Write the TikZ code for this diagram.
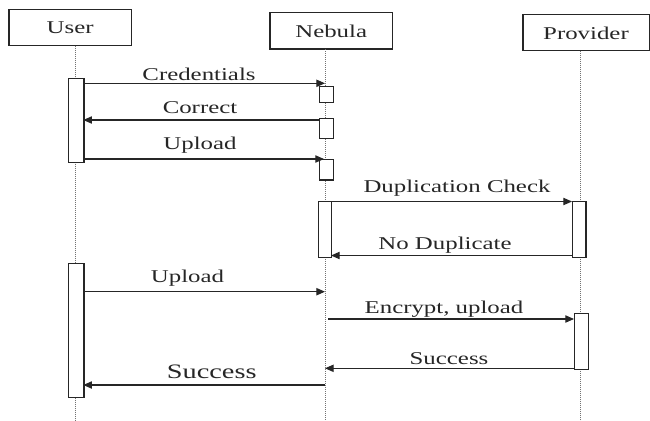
\documentclass[tikz,border=0pt]{standalone}
\usepackage{fontspec}
\setmainfont[FakeStretch=1.38]{Liberation Serif}
\usetikzlibrary{arrows.meta}
\tikzset{
  actorbox/.style={draw=black!85, line width=1.1pt},
  actbox/.style={draw=black!85, line width=0.9pt, fill=white, inner sep=0pt, anchor=north west},
  lifeline/.style={draw=black!55, line width=0.5pt, densely dotted},
  msg/.style={draw=black!85, line width=0.8pt, -{Triangle[length=6.5pt,width=5.5pt]}},
  lbl/.style={font=\fontsize{13.5}{15}\selectfont, text=black!85, inner sep=0pt},
  biglbl/.style={font=\fontsize{15.4}{17}\selectfont, text=black!85, inner sep=0pt}
}
\begin{document}
\begin{tikzpicture}[x=0.75pt,y=-0.75pt]
\useasboundingbox (0,0) rectangle (650,421);
% actor boxes
\draw[actorbox] (9,9.5) rectangle (131.5,45.5);
\node[lbl] (user) at (70.2,27.5) {User};
\draw[actorbox] (270,12.7) rectangle (392.5,49);
\node[lbl] (nebula) at (331.2,31) {Nebula};
\draw[actorbox] (523,14.7) rectangle (649.4,50.7);
\node[lbl] (provider) at (586,33) {Provider};
% lifelines
\coordinate (uTop) at (75.8,45.5);
\coordinate (uBot) at (75.8,421);
\coordinate (nTop) at (325,49);
\coordinate (nBot) at (325,421);
\coordinate (pTop) at (580,50.7);
\coordinate (pBot) at (580,421);
\draw[lifeline] (uTop) -- (uBot);
\draw[lifeline] (nTop) -- (nBot);
\draw[lifeline] (pTop) -- (pBot);
% activation boxes
\node[actbox, minimum width=15.3*0.75pt, minimum height=84*0.75pt] (uA1) at (68,77.7) {};
\node[actbox, minimum width=13.5*0.75pt, minimum height=16*0.75pt] (nB1) at (319,85.7) {};
\node[actbox, minimum width=13.5*0.75pt, minimum height=20*0.75pt] (nB2) at (319,118) {};
\node[actbox, minimum width=13.5*0.75pt, minimum height=20.3*0.75pt] (nB3) at (319,159) {};
\node[actbox, minimum width=13.5*0.75pt, minimum height=55.7*0.75pt] (nA) at (317.5,201) {};
\node[actbox, minimum width=13.4*0.75pt, minimum height=55.7*0.75pt] (pA1) at (572,201) {};
\node[actbox, minimum width=15.3*0.75pt, minimum height=134*0.75pt] (uA2) at (68,262.7) {};
\node[actbox, minimum width=14*0.75pt, minimum height=56.3*0.75pt] (pA2) at (574,312.7) {};
% message end points
\coordinate (m1a) at (83.3,83.3);  \coordinate (m1b) at (325,83.3);
\coordinate (m2a) at (319,120);    \coordinate (m2b) at (83.3,120);
\coordinate (m3a) at (83.3,159);   \coordinate (m3b) at (324,159);
\coordinate (m4a) at (331,201.5);  \coordinate (m4b) at (572,201.5);
\coordinate (m5a) at (572,255.5);  \coordinate (m5b) at (331,255.5);
\coordinate (m6a) at (83.3,291.7); \coordinate (m6b) at (325,291.7);
\coordinate (m7a) at (328,319);    \coordinate (m7b) at (574,319);
\coordinate (m8a) at (574,368.3);  \coordinate (m8b) at (325,368.3);
\coordinate (m9a) at (325,385);    \coordinate (m9b) at (83.3,385);
\draw[msg] (m1a) -- (m1b);
\draw[msg] (m2a) -- (m2b);
\draw[msg] (m3a) -- (m3b);
\draw[msg] (m4a) -- (m4b);
\draw[msg] (m5a) -- (m5b);
\draw[msg] (m6a) -- (m6b);
\draw[msg] (m7a) -- (m7b);
\draw[msg] (m8a) -- (m8b);
\draw[msg] (m9a) -- (m9b);
% labels
\node[lbl] (l1) at (199,74) {Credentials};
\node[lbl] (l2) at (200,108) {Correct};
\node[lbl] (l3) at (200,145) {Upload};
\node[lbl] (l4) at (457,188.5) {Duplication Check};
\node[lbl] (l5) at (445,245) {No Duplicate};
\node[lbl] (l6) at (187.5,278.5) {Upload};
\node[lbl] (l7) at (444,309.5) {Encrypt, upload};
\node[lbl] (l8) at (449,358.5) {Success};
\node[biglbl] (l9) at (211.7,372) {Success};
\end{tikzpicture}
\end{document}
